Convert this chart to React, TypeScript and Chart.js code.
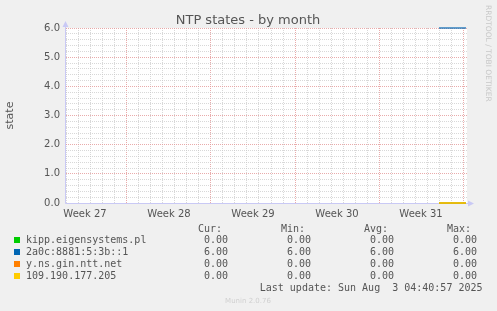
import React, { useEffect, useRef } from 'react';
import { Chart, registerables } from 'chart.js';

Chart.register(...registerables);

const TITLE = 'NTP states - by month';
const Y_TITLE = 'state';
const LAST_UPDATE = 'Last update: Sun Aug  3 04:40:57 2025';
const VERSION = 'Munin 2.0.76';
const WATERMARK = 'RRDTOOL / TOBI OETIKER';

// time axis: days relative to Sun 3 Aug 2025 00:00
const X_MIN = -33.083;
const X_MAX = 0.333;
const timeDays = [-2.0, 0.25];

const seriesNames = ['kipp.eigensystems.pl', '2a0c:8881:5:3b::1', 'y.ns.gin.ntt.net', '109.190.177.205'];
const seriesColors = ['#00cc00', '#0066b3', '#ff8000', '#ffcc00'];
const kippValues = [0, 0];
const v6Values = [6, 6];
const nttValues = [0, 0];
const ipValues = [0, 0];
const seriesValues = [kippValues, v6Values, nttValues, ipValues];

const weekLabels = ['Week 27', 'Week 28', 'Week 29', 'Week 30', 'Week 31'];
const weekCenters = [-31.5, -24.5, -17.5, -10.5, -3.5];
const dayLines: number[] = [];
for (let d = -33; d <= 0; d++) dayLines.push(d);
const yTicks: number[] = [];
for (let i = 0; i <= 30; i++) yTicks.push(i / 5);

const SANS = '"DejaVu Sans", sans-serif';
const MONO = '"DejaVu Sans Mono", monospace';
const TEXT = '#555555';
const MAJOR = 'rgba(228, 150, 150, 0.8)';
const MINOR = 'rgba(200, 200, 200, 0.7)';
const AXIS = '#c9c9f5';

const fmt = (v: number) => v.toFixed(2);

const decorPlugin = {
  id: 'decor',
  beforeDraw(chart: any) {
    const { ctx, chartArea: a, width, height } = chart;
    ctx.save();
    ctx.fillStyle = '#f0f0f0';
    ctx.fillRect(0, 0, width, height);
    ctx.fillStyle = '#ffffff';
    ctx.fillRect(a.left, a.top, a.right - a.left, a.bottom - a.top);
    ctx.restore();
  },
  beforeDatasetsDraw(chart: any) {
    const { ctx, chartArea: a } = chart;
    ctx.save();
    ctx.strokeStyle = AXIS;
    ctx.fillStyle = AXIS;
    ctx.lineWidth = 1;
    const lx = a.left - 0.5;
    const by = a.bottom + 0.5;
    ctx.beginPath();
    ctx.moveTo(lx, by);
    ctx.lineTo(lx, a.top - 4);
    ctx.moveTo(lx, by);
    ctx.lineTo(a.right + 2, by);
    ctx.stroke();
    ctx.beginPath();
    ctx.moveTo(lx, a.top - 7);
    ctx.lineTo(lx - 3, a.top - 1);
    ctx.lineTo(lx + 3, a.top - 1);
    ctx.closePath();
    ctx.fill();
    ctx.beginPath();
    ctx.moveTo(a.right + 7, by);
    ctx.lineTo(a.right + 1, by - 3);
    ctx.lineTo(a.right + 1, by + 3);
    ctx.closePath();
    ctx.fill();
    ctx.restore();
  },
  afterDraw(chart: any) {
    const { ctx } = chart;
    ctx.save();
    // title
    ctx.fillStyle = TEXT;
    ctx.font = `13px ${SANS}`;
    ctx.textAlign = 'center';
    ctx.textBaseline = 'alphabetic';
    ctx.fillText(TITLE, 248, 24);

    // watermark
    ctx.save();
    ctx.translate(487.5, 5);
    ctx.rotate(Math.PI / 2);
    ctx.font = `7.5px ${SANS}`;
    ctx.fillStyle = '#c8c8c8';
    ctx.textAlign = 'left';
    ctx.textBaseline = 'middle';
    ctx.fillText(WATERMARK, 0, 0);
    ctx.restore();

    // legend
    ctx.font = `10px ${MONO}`;
    ctx.fillStyle = TEXT;
    ctx.textAlign = 'right';
    const cols = [228, 311, 394, 477];
    const heads = ['Cur:', 'Min:', 'Avg:', 'Max:'];
    heads.forEach((h, i) => ctx.fillText(h, cols[i] - 6, 231.5));
    seriesNames.forEach((name, i) => {
      const vals = seriesValues[i];
      const base = 243 + i * 12;
      ctx.fillStyle = seriesColors[i];
      ctx.fillRect(14, base - 6, 6, 6);
      ctx.fillStyle = TEXT;
      ctx.textAlign = 'left';
      ctx.fillText(name, 26, base);
      ctx.textAlign = 'right';
      const cur = vals[vals.length - 1];
      const min = Math.min(...vals);
      const max = Math.max(...vals);
      const avg = vals.reduce((s, v) => s + v, 0) / vals.length;
      [cur, min, avg, max].forEach((v, j) => ctx.fillText(fmt(v), cols[j], base));
    });
    ctx.fillText(LAST_UPDATE, 482.5, 291);

    ctx.font = `7px ${SANS}`;
    ctx.fillStyle = '#d0d0d0';
    ctx.textAlign = 'center';
    ctx.fillText(VERSION, 248, 302.5);
    ctx.restore();
  },
};

export default function App() {
  const ref = useRef<HTMLCanvasElement | null>(null);
  useEffect(() => {
    document.body.style.margin = '0';
    const canvas = ref.current;
    if (!canvas) return;
    const datasets = seriesNames.map((name, i) => ({
      label: name,
      data: timeDays.map((t, k) => ({ x: t, y: seriesValues[i][k] })),
      borderColor: seriesColors[i],
      backgroundColor: seriesColors[i],
      borderWidth: 1.2,
      pointRadius: 0,
      tension: 0,
      clip: false as any,
      order: seriesNames.length - i,
      xAxisID: 'x',
      yAxisID: 'y',
    }));
    const chart = new Chart(canvas, {
      type: 'line',
      data: { datasets },
      plugins: [decorPlugin],
      options: {
        animation: false,
        responsive: false,
        maintainAspectRatio: false,
        events: [],
        layout: { padding: { top: 28, right: 30, bottom: 0, left: 0 } },
        plugins: { legend: { display: false }, tooltip: { enabled: false }, title: { display: false } },
        scales: {
          xg: {
            type: 'linear',
            position: 'bottom',
            min: X_MIN,
            max: X_MAX,
            afterBuildTicks: (s: any) => { s.ticks = dayLines.map((v) => ({ value: v })); },
            afterFit: (s: any) => { s.height = 0; s.paddingLeft = 0; s.paddingRight = 0; },
            ticks: { display: false },
            grid: {
              drawTicks: false,
              lineWidth: 1,
              color: (c: any) => (c.tick && c.tick.value % 7 === 0 ? MAJOR : MINOR),
            },
            border: { display: false, dash: [1, 1] },
          },
          x: {
            type: 'linear',
            position: 'bottom',
            min: X_MIN,
            max: X_MAX,
            afterBuildTicks: (s: any) => { s.ticks = weekCenters.map((v) => ({ value: v })); },
            afterFit: (s: any) => { s.height = 108; s.paddingLeft = 0; s.paddingRight = 0; },
            grid: { display: false },
            border: { display: false },
            ticks: {
              autoSkip: false,
              maxRotation: 0,
              padding: -3,
              color: TEXT,
              font: { family: SANS, size: 10 },
              callback: (_v: any, i: number) => weekLabels[i],
            },
          },
          y: {
            type: 'linear',
            position: 'left',
            min: 0,
            max: 6,
            afterBuildTicks: (s: any) => { s.ticks = yTicks.map((v) => ({ value: v })); },
            afterFit: (s: any) => { s.width = 66; s.paddingTop = 0; s.paddingBottom = 0; },
            grid: {
              drawTicks: false,
              lineWidth: 1,
              color: (c: any) =>
                c.tick && Math.abs(c.tick.value - Math.round(c.tick.value)) < 1e-6 ? MAJOR : MINOR,
            },
            border: { display: false, dash: [1, 1] },
            ticks: {
              autoSkip: false,
              padding: 6,
              color: TEXT,
              font: { family: SANS, size: 10 },
              callback: (v: any) => (Math.abs(v - Math.round(v)) < 1e-6 ? Number(v).toFixed(1) : ''),
            },
            title: {
              display: true,
              text: Y_TITLE,
              color: TEXT,
              font: { family: SANS, size: 11 },
              padding: { top: 4, bottom: 0 },
            },
          },
        },
      } as any,
    });
    return () => chart.destroy();
  }, []);
  return <canvas ref={ref} width={497} height={311} style={{ display: 'block' }} />;
}
